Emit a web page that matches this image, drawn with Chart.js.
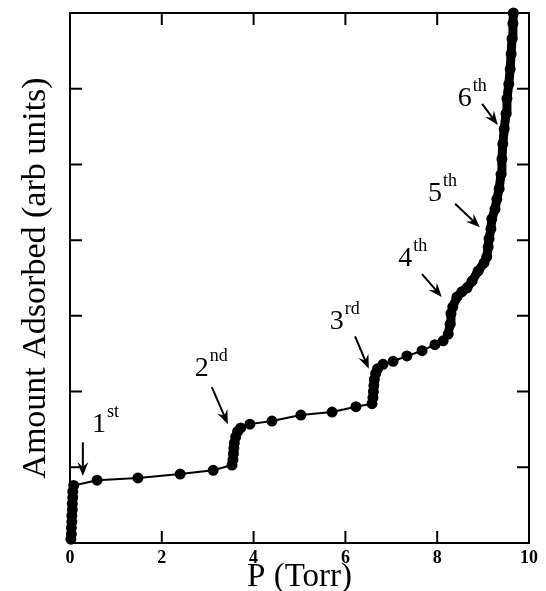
<!DOCTYPE html>
<html>
<head>
<meta charset="utf-8">
<script src="https://cdn.jsdelivr.net/npm/chart.js@4.4.1/dist/chart.umd.min.js"></script>
<style>
  body { margin: 0; background: #fff; }
  canvas { display: block; }
</style>
</head>
<body>
<canvas id="isotherm" width="546" height="591"></canvas>
<script>
const pressure = [
  0.02, 0.03, 0.03, 0.04, 0.04, 0.05, 0.05, 0.06, 0.06, 0.08,
  0.59, 1.48, 2.40, 3.12, 3.53,
  3.55, 3.56, 3.57, 3.58, 3.61, 3.65, 3.72,
  3.92, 4.40, 5.03, 5.71, 6.23, 6.58,
  6.60, 6.61, 6.62, 6.63, 6.66, 6.70,
  6.82, 7.04, 7.34, 7.67, 7.95, 8.13,
  8.24, 8.28, 8.30, 8.34, 8.43, 8.54, 8.65, 8.76, 8.89, 9.02,
  9.08, 9.11, 9.13, 9.17, 9.19, 9.26, 9.30, 9.35, 9.39, 9.41,
  9.43, 9.46, 9.50, 9.52, 9.56, 9.59, 9.61, 9.63, 9.65, 9.66
];
const amount = [
  0.05, 0.12, 0.20, 0.28, 0.36, 0.44, 0.52, 0.60, 0.68, 0.76,
  0.83, 0.86, 0.91, 0.96, 1.03,
  1.10, 1.18, 1.25, 1.32, 1.40, 1.47, 1.52,
  1.57, 1.61, 1.69, 1.73, 1.80, 1.84,
  1.92, 2.00, 2.08, 2.16, 2.24, 2.30,
  2.36, 2.40, 2.47, 2.54, 2.62, 2.67,
  2.76, 2.89, 3.03, 3.12, 3.25, 3.32, 3.37, 3.46, 3.59, 3.70,
  3.78, 3.91, 4.02, 4.15, 4.28, 4.41, 4.54, 4.68, 4.87, 5.07,
  5.27, 5.47, 5.67, 5.87, 6.06, 6.26, 6.46, 6.66, 6.86, 7.00
];
const xTickStep = 2;
const yTickStep = 1;

// step labels: text, superscript, label spot, arrow tail and head (data units)
const stepNames = ['1', '2', '3', '4', '5', '6'];
const stepSups = ['st', 'nd', 'rd', 'th', 'th', 'th'];
const labelAt = [[0.48, 1.47], [2.72, 2.21], [5.66, 2.83], [7.15, 3.66], [7.80, 4.52], [8.45, 5.77]];
const arrowFrom = [[0.28, 1.33], [3.09, 2.06], [6.21, 2.73], [7.67, 3.55], [8.39, 4.48], [8.98, 5.80]];
const arrowTo = [[0.28, 0.885], [3.44, 1.57], [6.51, 2.30], [8.10, 3.25], [8.93, 4.17], [9.32, 5.52]];

const serif = "'Liberation Serif', 'Times New Roman', serif";

const points = pressure.map((p, i) => ({ x: p, y: amount[i] }));

const frameAndNotes = {
  id: 'frameAndNotes',
  afterDraw(chart) {
    const { ctx, chartArea: a, scales: { x, y } } = chart;
    ctx.save();
    ctx.strokeStyle = '#000';
    ctx.fillStyle = '#000';
    ctx.lineWidth = 2;
    ctx.strokeRect(a.left, a.top, a.right - a.left, a.bottom - a.top);

    // inward ticks on all four sides
    ctx.beginPath();
    x.ticks.forEach(t => {
      if (t.value <= x.min || t.value >= x.max) return;
      const px = x.getPixelForValue(t.value);
      ctx.moveTo(px, a.bottom); ctx.lineTo(px, a.bottom - 12);
      ctx.moveTo(px, a.top); ctx.lineTo(px, a.top + 12);
    });
    y.ticks.forEach(t => {
      if (t.value <= y.min || t.value >= y.max) return;
      const py = y.getPixelForValue(t.value);
      ctx.moveTo(a.left, py); ctx.lineTo(a.left + 12, py);
      ctx.moveTo(a.right, py); ctx.lineTo(a.right - 12, py);
    });
    ctx.stroke();

    // step labels with arrows
    ctx.textBaseline = 'alphabetic';
    ctx.textAlign = 'left';
    stepNames.forEach((name, i) => {
      const lx = x.getPixelForValue(labelAt[i][0]);
      const ly = y.getPixelForValue(labelAt[i][1]);
      ctx.font = '28px ' + serif;
      ctx.fillText(name, lx, ly);
      const w = ctx.measureText(name).width;
      ctx.font = '18px ' + serif;
      ctx.fillText(stepSups[i], lx + w + 1, ly - 15);

      const x0 = x.getPixelForValue(arrowFrom[i][0]);
      const y0 = y.getPixelForValue(arrowFrom[i][1]);
      const x1 = x.getPixelForValue(arrowTo[i][0]);
      const y1 = y.getPixelForValue(arrowTo[i][1]);
      const ang = Math.atan2(y1 - y0, x1 - x0);
      const len = 14, half = 5.5;
      ctx.lineWidth = 2;
      ctx.beginPath();
      ctx.moveTo(x0, y0);
      ctx.lineTo(x1 - Math.cos(ang) * 8, y1 - Math.sin(ang) * 8);
      ctx.stroke();
      ctx.beginPath();
      ctx.moveTo(x1, y1);
      ctx.lineTo(x1 - Math.cos(ang) * len + Math.sin(ang) * half, y1 - Math.sin(ang) * len - Math.cos(ang) * half);
      ctx.lineTo(x1 - Math.cos(ang) * (len - 5), y1 - Math.sin(ang) * (len - 5));
      ctx.lineTo(x1 - Math.cos(ang) * len - Math.sin(ang) * half, y1 - Math.sin(ang) * len + Math.cos(ang) * half);
      ctx.closePath();
      ctx.fill();
    });
    ctx.restore();
  }
};

new Chart(document.getElementById('isotherm'), {
  type: 'scatter',
  data: {
    datasets: [{
      data: points,
      showLine: true,
      borderColor: '#000',
      backgroundColor: '#000',
      borderWidth: 2,
      pointRadius: 4.5,
      pointHoverRadius: 4.5,
      clip: false,
      segment: {
        // the last rise is a dense run of points, drawn as a thick band
        borderWidth: ctx => (ctx.p0.parsed.x > 8.2 && ctx.p0.parsed.y > 2.7 ? 9 : 2)
      },
      borderCapStyle: 'round',
      borderJoinStyle: 'round'
    }]
  },
  options: {
    responsive: false,
    devicePixelRatio: 1,
    animation: false,
    layout: { padding: { top: 13, right: 17, left: 0, bottom: 0 } },
    plugins: { legend: { display: false }, tooltip: { enabled: false } },
    scales: {
      x: {
        type: 'linear',
        min: 0,
        max: 10,
        ticks: {
          stepSize: xTickStep,
          color: '#000',
          padding: 5,
          font: { family: serif, size: 18, weight: 'bold' }
        },
        grid: { display: false, drawTicks: false },
        border: { display: false },
        title: {
          display: true,
          text: 'P (Torr)',
          color: '#000',
          padding: 0,
          font: { family: serif, size: 33, lineHeight: 0.8 }
        },
        afterFit(s) { s.height = 48; }
      },
      y: {
        type: 'linear',
        min: 0,
        max: 7,
        ticks: { stepSize: yTickStep, display: false },
        grid: { display: false, drawTicks: false },
        border: { display: false },
        title: {
          display: true,
          text: 'Amount Adsorbed (arb units)',
          color: '#000',
          padding: { top: 16, bottom: 0 },
          font: { family: serif, size: 34 }
        },
        afterFit(s) { s.width = 70; }
      }
    }
  },
  plugins: [frameAndNotes]
});
</script>
</body>
</html>
